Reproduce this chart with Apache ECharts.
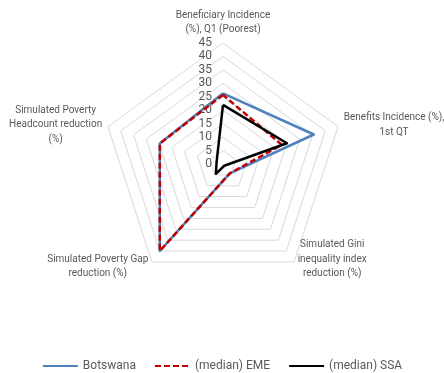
<!DOCTYPE html>
<html>
<head>
<meta charset="utf-8">
<script src="https://cdn.jsdelivr.net/npm/echarts@6/dist/echarts.min.js"></script>
<style>
html,body{margin:0;padding:0;background:#fff;}
#chart{width:444px;height:373px;}
</style>
</head>
<body>
<div id="chart"></div>
<script>
// Indicators (counter-clockwise from top)
const indicatorNames = [
  ['Beneficiary Incidence', '(%), Q1 (Poorest)'],
  ['Simulated Poverty', 'Headcount reduction', '(%)'],
  ['Simulated Poverty Gap', 'reduction (%)'],
  ['Simulated Gini', 'inequality index', 'reduction (%)', ' '],
  ['Benefits Incidence (%),', '1st QT']
];
const axisMax = 45;
const tickValues = [0, 5, 10, 15, 20, 25, 30, 35, 40, 45];
const seriesNames = ['Botswana', '(median) EME', '(median) SSA'];
const botswana = [26.3, 24.7, 40.0, 4.3, 35.5];
const emeMedian = [25.7, 24.7, 40.0, 4.3, 23.0];
const ssaMedian = [22.0, 2.5, 4.5, 0.8, 25.0];

const FONT = 'Roboto, "Liberation Sans", sans-serif';
const TEXT = '#595959';
const colors = ['#4f81bd', '#c00000', '#000000'];
const types = ['solid', [6, 3], 'solid'];
const values = [botswana, emeMedian, ssaMedian];

const chart = echarts.init(document.getElementById('chart'), null, {renderer: 'canvas'});
const option = {
  animation: false,
  backgroundColor: '#fff',
  radar: {
    center: [223, 164],
    radius: 121,
    startAngle: 90,
    splitNumber: tickValues.length - 1,
    shape: 'polygon',
    indicator: indicatorNames.map(n => ({name: n.join('\n'), min: 0, max: axisMax})),
    nameGap: 6,
    axisName: {
      color: TEXT,
      fontFamily: FONT,
      fontSize: 10,
      lineHeight: 14.5,
      formatter: function (name) {
        return name.split('\n').map(l => '{c|' + l + '}').join('\n');
      },
      rich: { c: { align: 'center', color: TEXT, fontFamily: FONT, fontSize: 10, lineHeight: 14.5 } }
    },
    splitLine: { lineStyle: { color: '#d9d9d9', width: 1 } },
    splitArea: { show: false },
    axisLine: { show: false },
    axisTick: { show: false },
    axisLabel: { show: false }
  },
  grid: { left: 223, top: 43, width: 1, height: 121, containLabel: false },
  xAxis: { type: 'value', min: 0, max: 1, show: false },
  yAxis: {
    type: 'value', min: tickValues[0], max: tickValues[tickValues.length - 1], interval: 5,
    axisLine: { show: false }, axisTick: { show: false }, splitLine: { show: false },
    axisLabel: { color: TEXT, fontFamily: FONT, fontSize: 12, margin: 11 }
  },
  legend: {
    data: seriesNames,
    left: 'center',
    top: 360,
    padding: 0,
    itemWidth: 35,
    itemHeight: 12,
    itemGap: 18,
    itemStyle: { opacity: 0 },
    textStyle: { color: TEXT, fontFamily: FONT, fontSize: 12 }
  },
  series: [
    ...seriesNames.map((n, i) => ({
      type: 'line', name: n, data: [], symbol: 'none', showSymbol: false,
      lineStyle: { color: colors[i], width: 2.5, type: types[i] },
      itemStyle: { color: colors[i] }
    })),
    ...seriesNames.map((n, i) => ({
      type: 'radar',
      name: n,
      symbol: 'none',
      lineStyle: { color: colors[i], width: 2.5, type: types[i] },
      itemStyle: { color: colors[i] },
      data: [{ value: values[i], name: n }]
    }))
  ]
};
chart.setOption(option);
</script>
</body>
</html>
